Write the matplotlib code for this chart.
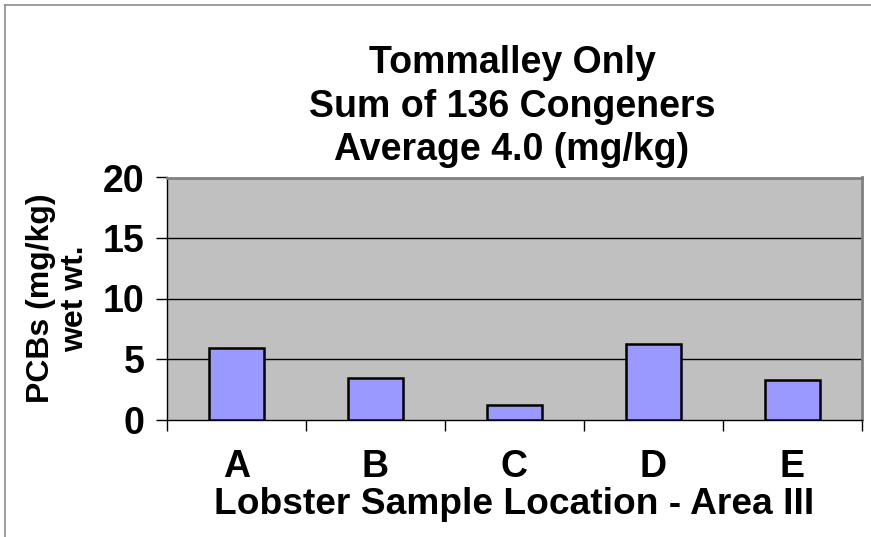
import matplotlib
matplotlib.use("Agg")
import matplotlib.pyplot as plt
from matplotlib.lines import Line2D
import numpy as np

categories = ["A", "B", "C", "D", "E"]
values = [5.87, 3.47, 1.16, 6.2, 3.25]
yticks = [0, 5, 10, 15, 20]
title_lines = ["Tommalley Only", "Sum of 136 Congeners", "Average 4.0 (mg/kg)"]
xlabel = "Lobster Sample Location - Area III"
ylabel = "PCBs (mg/kg)\nwet wt."

FONT = ["Liberation Sans", "DejaVu Sans"]
plt.rcParams["font.family"] = FONT

W, H = 871, 537
fig = plt.figure(figsize=(W / 100, H / 100), dpi=100)
fig.patch.set_facecolor("white")

# outer frame (left and top visible)
fig.add_artist(Line2D([5 / W, 5 / W], [0, 1 - 5 / H], transform=fig.transFigure, color="#8c8c8c", lw=1.2))
fig.add_artist(Line2D([5 / W, 1], [1 - 5 / H, 1 - 5 / H], transform=fig.transFigure, color="#8c8c8c", lw=1.2))

left, right = 167 / W, 862 / W
bottom, top = (H - 419.5) / H, (H - 177.5) / H
ax = fig.add_axes([left, bottom, right - left, top - bottom])
ax.set_facecolor("#C0C0C0")

x = np.arange(len(categories))
ax.bar(x, values, width=0.4, color="#9999FF", edgecolor="black", linewidth=1.8, zorder=3)

ax.set_xlim(-0.5, len(categories) - 0.5)
ax.set_ylim(0, 20)
ax.set_yticks(yticks)
ax.set_yticklabels([str(v) for v in yticks], fontsize=27, fontweight="bold")
for yv in yticks[1:-1]:
    ax.axhline(yv, color="black", lw=1.0, zorder=1)

ax.set_xticks(x)
ax.set_xticklabels(categories, fontsize=27, fontweight="bold")
ax.set_xticks(np.arange(len(categories) + 1) - 0.5, minor=True)
ax.tick_params(axis="x", which="major", length=0, pad=21)
ax.tick_params(axis="x", which="minor", length=8, width=1.0, direction="out")
ax.tick_params(axis="y", which="major", length=8, width=1.0, direction="out", pad=8)

for s in ["top", "right"]:
    ax.spines[s].set_color("#808080")
    ax.spines[s].set_linewidth(2.0)
ax.spines["left"].set_color("black")
ax.spines["bottom"].set_color("black")
ax.spines["left"].set_linewidth(1.0)
ax.spines["bottom"].set_linewidth(1.0)

ax.set_xlabel(xlabel, fontsize=26.7, fontweight="bold", labelpad=2)
ax.set_ylabel(ylabel, fontsize=23, fontweight="bold", labelpad=9, linespacing=1.2)

cx = 512 / W
for i, (line, base) in enumerate(zip(title_lines, [73, 117, 160])):
    fig.text(cx, 1 - base / H, line, ha="center", va="baseline",
             fontsize=27, fontweight="bold")

fig.savefig("out.png", dpi=100)
